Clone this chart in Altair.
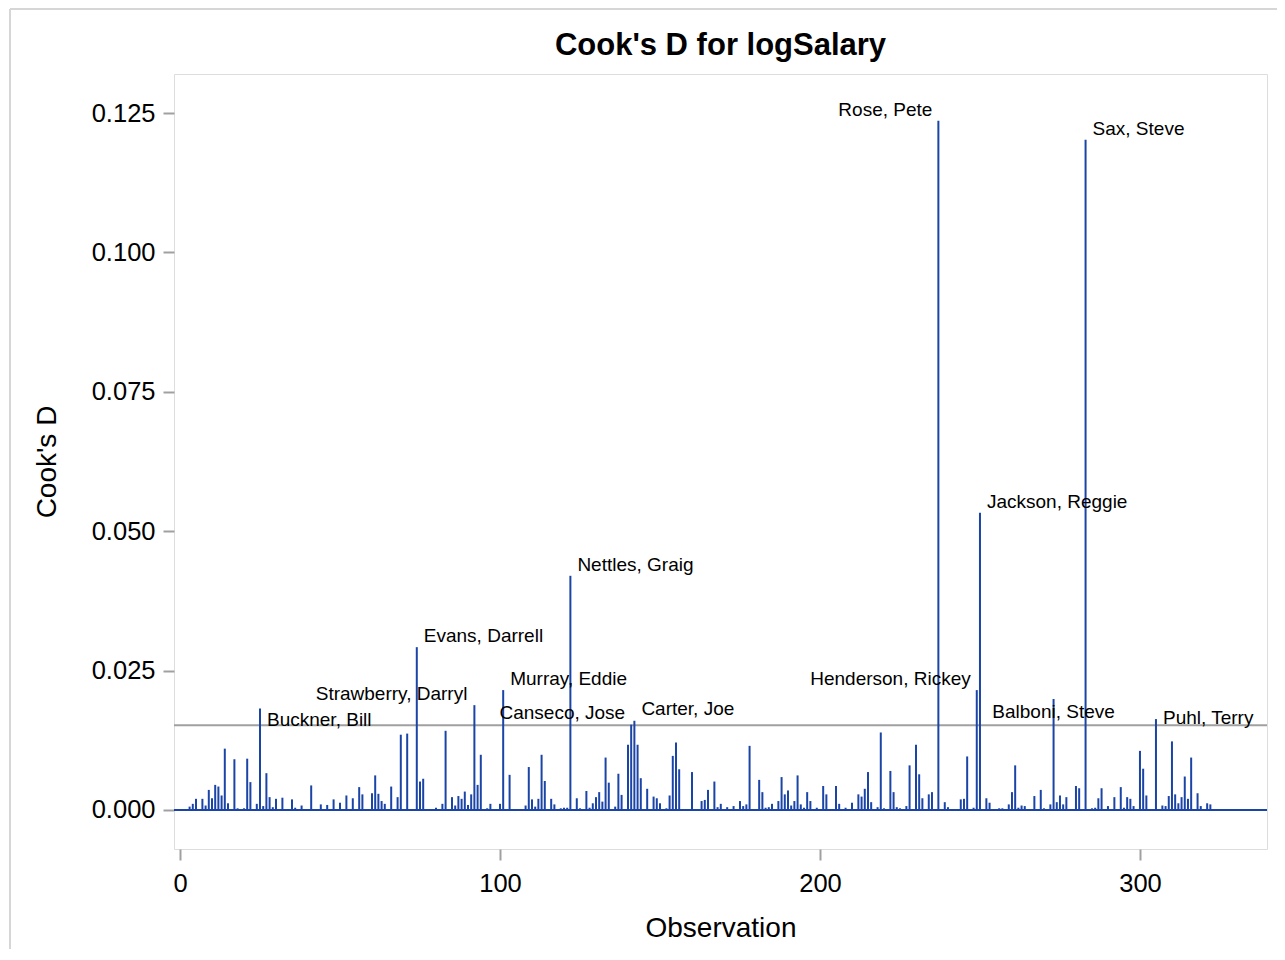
import altair as alt
import pandas as pd

obs = [3, 4, 5, 7, 8, 9, 10, 11, 12, 13, 14, 15, 17, 18, 20, 21, 22, 24, 25, 26, 27, 28, 29, 30, 32, 35, 36, 38,
       41, 44, 46, 48, 50, 52, 54, 56, 57, 60, 61, 62, 63, 64, 66, 68, 69, 71, 74, 75, 76, 80, 82, 83, 85, 86, 87,
       88, 89, 90, 91, 92, 93, 94, 96, 97, 100, 101, 103, 108, 109, 110, 111, 112, 113, 114, 116, 117, 119, 120,
       121, 122, 124, 125, 127, 128, 129, 130, 131, 132, 133, 134, 136, 137, 138, 140, 141, 142, 143, 144, 146,
       148, 149, 150, 152, 153, 154, 155, 156, 160, 163, 164, 165, 167, 168, 169, 171, 173, 175, 176, 177, 178,
       181, 182, 183, 184, 185, 187, 188, 189, 190, 191, 192, 193, 194, 195, 196, 197, 199, 201, 202, 205, 206,
       208, 210, 212, 213, 214, 215, 216, 218, 219, 220, 222, 223, 224, 225, 227, 228, 230, 231, 232, 234, 235,
       237, 239, 240, 244, 245, 246, 248, 249, 250, 252, 253, 256, 257, 259, 260, 261, 262, 263, 264, 267, 269,
       270, 272, 273, 274, 275, 276, 277, 280, 281, 283, 285, 286, 287, 288, 290, 292, 294, 295, 296, 297, 298,
       300, 301, 302, 305, 307, 308, 309, 310, 311, 312, 313, 314, 315, 316, 318, 319, 321, 322]

cooks_d = [0.0006, 0.0011, 0.0020, 0.0020, 0.0008, 0.0036, 0.0021, 0.0045, 0.0042, 0.0026, 0.0110, 0.0012,
           0.0091, 0.0003, 0.0003, 0.0092, 0.0050, 0.0011, 0.0182, 0.0007, 0.0066, 0.0023, 0.0005, 0.0020,
           0.0022, 0.0019, 0.0004, 0.0008, 0.0044, 0.0010, 0.0009, 0.0019, 0.0013, 0.0026, 0.0021, 0.0041,
           0.0028, 0.0030, 0.0062, 0.0029, 0.0016, 0.0011, 0.0042, 0.0023, 0.0135, 0.0137, 0.0292, 0.0051,
           0.0056, 0.0004, 0.0011, 0.0142, 0.0023, 0.0008, 0.0025, 0.0020, 0.0033, 0.0009, 0.0028, 0.0188,
           0.0045, 0.0099, 0.0003, 0.0011, 0.0011, 0.0215, 0.0063, 0.0008, 0.0077, 0.0019, 0.0006, 0.0020,
           0.0099, 0.0052, 0.0020, 0.0010, 0.0003, 0.0004, 0.0004, 0.0420, 0.0021, 0.0003, 0.0034, 0.0004,
           0.0012, 0.0023, 0.0032, 0.0015, 0.0094, 0.0049, 0.0006, 0.0065, 0.0027, 0.0117, 0.0153, 0.0160,
           0.0117, 0.0057, 0.0038, 0.0024, 0.0021, 0.0012, 0.0003, 0.0026, 0.0097, 0.0121, 0.0073, 0.0068,
           0.0016, 0.0018, 0.0036, 0.0051, 0.0005, 0.0011, 0.0005, 0.0007, 0.0016, 0.0007, 0.0010, 0.0115,
           0.0054, 0.0032, 0.0004, 0.0005, 0.0011, 0.0016, 0.0059, 0.0028, 0.0035, 0.0008, 0.0016, 0.0062,
           0.0010, 0.0004, 0.0032, 0.0016, 0.0004, 0.0043, 0.0028, 0.0043, 0.0011, 0.0004, 0.0013, 0.0028,
           0.0024, 0.0038, 0.0068, 0.0014, 0.0005, 0.0139, 0.0003, 0.0070, 0.0032, 0.0005, 0.0003, 0.0007,
           0.0080, 0.0117, 0.0064, 0.0021, 0.0028, 0.0032, 0.1236, 0.0014, 0.0005, 0.0019, 0.0020, 0.0096,
           0.0004, 0.0215, 0.0533, 0.0021, 0.0013, 0.0003, 0.0003, 0.0010, 0.0032, 0.0080, 0.0004, 0.0008,
           0.0007, 0.0025, 0.0036, 0.0003, 0.0010, 0.0199, 0.0014, 0.0026, 0.0010, 0.0023, 0.0043, 0.0039,
           0.1202, 0.0003, 0.0004, 0.0021, 0.0039, 0.0007, 0.0023, 0.0041, 0.0004, 0.0023, 0.0020, 0.0007,
           0.0106, 0.0074, 0.0026, 0.0163, 0.0008, 0.0007, 0.0025, 0.0123, 0.0028, 0.0012, 0.0023, 0.0060,
           0.0020, 0.0094, 0.0030, 0.0007, 0.0012, 0.0010]

label_obs = [25, 74, 92, 101, 122, 141, 142, 237, 249, 250, 273, 283, 305]
label_names = ["Buckner, Bill", "Evans, Darrell", "Strawberry, Darryl", "Murray, Eddie", "Nettles, Graig",
               "Canseco, Jose", "Carter, Joe", "Rose, Pete", "Henderson, Rickey", "Jackson, Reggie",
               "Balboni, Steve", "Sax, Steve", "Puhl, Terry"]

chart_title = "Cook's D for logSalary"

n_obs = 263
cutoff = 4 / n_obs

# label placement styling: (align, dx, dy)
label_style = {
    "Buckner, Bill": ("left", 7, 12),
    "Evans, Darrell": ("left", 7, -11),
    "Strawberry, Darryl": ("right", -7, -11),
    "Murray, Eddie": ("left", 7, -11),
    "Nettles, Graig": ("left", 7, -11),
    "Canseco, Jose": ("right", -6, -12),
    "Carter, Joe": ("left", 7, -12),
    "Rose, Pete": ("right", -6, -11),
    "Henderson, Rickey": ("right", -6, -11),
    "Jackson, Reggie": ("left", 7, -11),
    "Balboni, Steve": ("center", 0, 13),
    "Sax, Steve": ("left", 7, -11),
    "Puhl, Terry": ("left", 7, -1),
}

FONT = "Liberation Sans"
BLUE = "#1a44a6"
GRAY = "#a0a0a0"
W, H = 1093, 775

df = pd.DataFrame({"Observation": obs, "CooksD": cooks_d})
d_lookup = dict(zip(obs, cooks_d))
lab = pd.DataFrame({"Observation": label_obs, "Name": label_names,
                    "CooksD": [d_lookup[o] for o in label_obs]})

xscale = alt.Scale(domain=[-1.875, 339.7], nice=False, zero=False)
yscale = alt.Scale(domain=[-0.007, 0.132], nice=False, zero=False)

needles = alt.Chart(df).mark_rule(color=BLUE, strokeWidth=2).encode(
    x=alt.X("Observation:Q", scale=xscale,
            axis=alt.Axis(values=[0, 100, 200, 300], title="Observation", grid=False, domain=False,
                          tickSize=11, tickColor=GRAY, tickWidth=2, labelPadding=11,
                          labelFontSize=25.5, labelColor="black", labelFont=FONT,
                          titleFontSize=28, titleFont=FONT, titleFontWeight="normal", titleColor="black",
                          titleY=79, titleBaseline="middle")),
    y=alt.Y("CooksD:Q", scale=yscale,
            axis=alt.Axis(values=[0, 0.025, 0.05, 0.075, 0.1, 0.125], format=".3f", title="Cook's D",
                          grid=False, domain=False, tickSize=11, tickColor=GRAY, tickWidth=2,
                          labelPadding=8, labelFontSize=25.5, labelColor="black", labelFont=FONT,
                          titleFontSize=28, titleFont=FONT, titleFontWeight="normal", titleColor="black",
                          titleX=-127, titleBaseline="middle")),
    y2=alt.datum(0),
)

baseline = alt.Chart(pd.DataFrame({"y": [0.0]})).mark_rule(color=BLUE, strokeWidth=2).encode(
    y=alt.Y("y:Q", scale=yscale), x=alt.value(0), x2=alt.value(W)
)

refline = alt.Chart(pd.DataFrame({"y": [cutoff]})).mark_rule(color=GRAY, strokeWidth=2).encode(
    y=alt.Y("y:Q", scale=yscale), x=alt.value(0), x2=alt.value(W)
)

text_layers = []
for name in label_names:
    al, dx, dy = label_style[name]
    text_layers.append(
        alt.Chart(lab).transform_filter(alt.datum.Name == name).mark_text(
            align=al, baseline="middle", dx=dx, dy=dy, fontSize=19, font=FONT, color="black"
        ).encode(
            x=alt.X("Observation:Q", scale=xscale),
            y=alt.Y("CooksD:Q", scale=yscale),
            text="Name:N",
        )
    )

title_mark = alt.Chart(pd.DataFrame({"t": [chart_title]})).mark_text(
    fontSize=31, font=FONT, fontWeight="bold", color="black", align="center", baseline="middle"
).encode(x=alt.value(W / 2), y=alt.value(-28), text="t:N")

outer_top = alt.Chart(pd.DataFrame({"a": [0]})).mark_rule(color="#d6d6d6", strokeWidth=2).encode(
    x=alt.value(-164), x2=alt.value(1120), y=alt.value(-65)
)
outer_left = alt.Chart(pd.DataFrame({"a": [0]})).mark_rule(color="#d6d6d6", strokeWidth=2).encode(
    x=alt.value(-164), y=alt.value(-65), y2=alt.value(900)
)

chart = alt.layer(outer_top, outer_left, refline, needles, baseline, *text_layers, title_mark).properties(
    width=W, height=H,
    autosize=alt.AutoSizeParams(type="none"),
    padding={"left": 166, "top": 66, "right": 10, "bottom": 100},
).configure_view(stroke=GRAY, strokeWidth=2).configure(background="white")

chart.save("out.html", embed_options={"renderer": "svg", "actions": False})
